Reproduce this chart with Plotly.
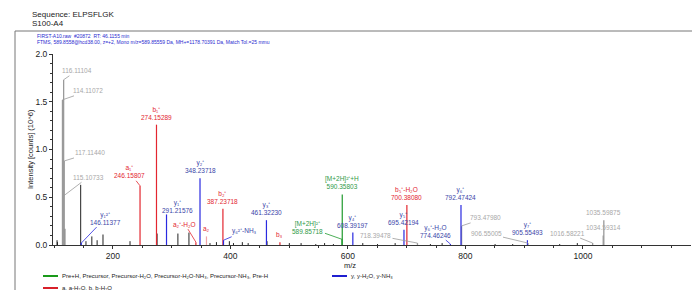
import plotly.graph_objects as go

# ---------------- data ----------------
# annotated peaks
ion_mz = [116.11104, 114.11072, 117.11440, 115.10733,
          146.11377, 246.15807, 274.15289, 291.21576, 341.23, 348.23718,
          359.24, 387.23718, 388.23, 461.32230, 484.29,
          589.85718, 590.35803, 608.39197, 695.42194, 700.38080, 718.39478,
          774.46246, 792.47424, 793.47980, 905.55493, 906.55005,
          1016.58221, 1034.59314, 1035.59875]
ion_int = [1.73, 1.52, 0.88, 0.51,
           0.02, 0.62, 1.26, 0.32, 0.03, 0.70,
           0.09, 0.38, 0.05, 0.26, 0.03,
           0.06, 0.53, 0.13, 0.16, 0.42, 0.02,
           0.01, 0.42, 0.20, 0.05, 0.02,
           0.02, 0.10, 0.26]
ion_name = ["", "", "", "",
            "y₁²⁺", "a₁⁺", "b₁⁺", "y₁⁺", "a₂⁺-H₂O", "y₂⁺",
            "a₂", "b₂⁺", "y₆²⁺-NH₃", "y₃⁺", "b₃",
            "[M+2H]²⁺", "[M+2H]²⁺+H", "y₄⁺", "y₅⁺", "b₅⁺-H₂O", "",
            "y₆⁺-H₂O", "y₆⁺", "", "y₇⁺", "",
            "", "", ""]
ion_group = ["u", "u", "u", "u",
             "y", "ab", "ab", "y", "ab", "y",
             "ab2", "ab", "y", "y", "ab",
             "pre", "pre", "y", "y", "ab", "u",
             "y", "y", "u", "y", "u",
             "u", "u", "u"]
ion_show_mz = [True, True, True, True,
               True, True, True, True, False, True,
               False, True, False, True, False,
               True, True, True, True, True, True,
               True, True, True, True, True,
               True, True, True]

# unannotated peaks
noise_mz = [104.9, 105.6, 118.11, 145.11, 154.1, 164.1, 173.1, 183.1, 229.1, 275.16,
            310.6, 329.4, 365.2, 376.2, 398.2, 405.2, 420.3, 462.3, 430.2, 500.3,
            520.3, 545.3, 560.3, 575.3, 625.3, 650.4, 680.4, 740.4, 760.4, 850.5,
            880.5, 960.5, 990.5]
noise_int = [0.05, 0.03, 0.17, 0.63, 0.04, 0.09, 0.05, 0.11, 0.04, 0.12,
             0.12, 0.13, 0.02, 0.03, 0.04, 0.02, 0.03, 0.04, 0.02, 0.02,
             0.02, 0.01, 0.02, 0.01, 0.02, 0.01, 0.02, 0.01, 0.02, 0.01,
             0.01, 0.01, 0.02]

x_ticks = [200, 400, 600, 800, 1000]
y_ticks = [0.0, 0.5, 1.0, 1.5, 2.0]

title_lines = ["Sequence: ELPSFLGK", "S100-A4"]
header_lines = ["FIRST-A10.raw  #20872  RT: 46.1155 min",
                "FTMS, 589.8558@hcd38.00, z=+2, Mono m/z=589.85559 Da, MH+=1178.70391 Da, Match Tol.=25 mmu"]
legend_labels = ["Pre+H, Precursor, Precursor-H₂O, Precursor-H₂O-NH₃, Precursor-NH₃, Pre-H",
                 "y, y-H₂O, y-NH₃",
                 "a, a-H₂O, b, b-H₂O"]

# ---------------- style ----------------
W, H = 700, 290
L, R, T, B = 45, 17, 46, 53
PW, PH = W - L - R, H - T - B

def px(x):
    return (x - L) / PW

def py(y):
    return (H - B - y) / PH

line_col = {"u": "#9a9a9a", "ab": "#e3262f", "ab2": "#f2a4a8", "y": "#2a2ae0", "pre": "#1f9a2e"}
text_col = {"u": "#a8a8a8", "ab": "#e3262f", "ab2": "#e3262f", "y": "#3a45a8", "pre": "#2f9a48"}

# label offsets for leader-lined labels (ax, ay in px)
leader = {
    0: (13, -9), 1: (26, -9), 2: (26, -8), 3: (25, -19),
    4: (24, -25), 5: (-11, -14), 7: (11, -8), 8: (-11, -18),
    12: (21, -9), 15: (-34, -12), 20: (-42, -8), 21: (-15, -13),
    23: (24, -8), 25: (-42, -10), 26: (-25, -10),
}

fig = go.Figure()

def stems(mzs, ints):
    xs, ys = [], []
    for m, v in zip(mzs, ints):
        xs += [m, m, None]
        ys += [0, v, None]
    return xs, ys

nx, ny = stems(noise_mz, noise_int)
fig.add_trace(go.Scatter(x=nx, y=ny, mode="lines", line=dict(color="#222222", width=1),
                         hoverinfo="skip", showlegend=False))

for g in ["u", "ab2", "ab", "y", "pre"]:
    sel = [(m, v) for m, v, gg in zip(ion_mz, ion_int, ion_group) if gg == g]
    xs, ys = stems([s[0] for s in sel], [s[1] for s in sel])
    fig.add_trace(go.Scatter(x=xs, y=ys, mode="lines",
                             line=dict(color=line_col[g], width=1.3 if g == "u" else 1.2),
                             hoverinfo="skip", showlegend=False))

annotations = []
for i, (m, v, nm, g, smz) in enumerate(zip(ion_mz, ion_int, ion_name, ion_group, ion_show_mz)):
    parts = []
    if nm:
        parts.append(nm)
    if smz:
        parts.append(f"{m:.5f}")
    txt = "<br>".join(parts)
    font = dict(size=6.5, color=text_col[g], family="Arial")
    if i in leader:
        ax, ay = leader[i]
        annotations.append(dict(x=m, y=v, xref="x", yref="y", text=txt, showarrow=True,
                                arrowhead=0, arrowwidth=0.8, arrowcolor=line_col[g] if g != "ab2" else "#e3262f",
                                ax=ax, ay=ay, font=font, align="center", standoff=0))
    else:
        annotations.append(dict(x=m, y=v, xref="x", yref="y", text=txt, showarrow=False,
                                yanchor="bottom", yshift=2, font=font, align="center"))

# titles
annotations.append(dict(x=px(22), y=py(6), xref="paper", yref="paper", text=title_lines[0],
                        showarrow=False, xanchor="left", yanchor="middle",
                        font=dict(size=8, color="#222", family="Arial")))
annotations.append(dict(x=px(22), y=py(16), xref="paper", yref="paper", text=title_lines[1],
                        showarrow=False, xanchor="left", yanchor="middle",
                        font=dict(size=8, color="#222", family="Arial")))
for k, t in enumerate(header_lines):
    annotations.append(dict(x=px(27), y=py(28 + 6 * k), xref="paper", yref="paper", text=t,
                            showarrow=False, xanchor="left", yanchor="middle",
                            font=dict(size=5, color="#2a2ad0", family="Arial")))
# axis titles
annotations.append(dict(x=px(342), y=py(257), xref="paper", yref="paper", text="m/z",
                        showarrow=False, xanchor="center", yanchor="middle",
                        font=dict(size=7.5, color="#222", family="Arial")))
annotations.append(dict(x=px(22), y=py(141), xref="paper", yref="paper",
                        text="Intensity [counts] (10^6)", textangle=-90,
                        showarrow=False, xanchor="center", yanchor="middle",
                        font=dict(size=7.5, color="#222", family="Arial")))

# legend
leg_pos = [(35, 268, "#1a9a1a"), (324, 268, "#1f1fd0"), (35, 280, "#d8202a")]
shapes = []
for (lx, ly, c), lab in zip(leg_pos, legend_labels):
    shapes.append(dict(type="line", xref="paper", yref="paper", x0=px(lx), x1=px(lx + 15),
                       y0=py(ly), y1=py(ly), line=dict(color=c, width=2)))
    annotations.append(dict(x=px(lx + 17), y=py(ly), xref="paper", yref="paper", text=lab,
                            showarrow=False, xanchor="left", yanchor="middle",
                            font=dict(size=6, color="#222", family="Arial")))

# outer frame
shapes.append(dict(type="rect", xref="paper", yref="paper", x0=px(7), x1=px(694),
                   y0=py(288), y1=py(23), line=dict(color="#777", width=1)))

fig.update_layout(
    width=W, height=H, margin=dict(l=L, r=R, t=T, b=B),
    paper_bgcolor="white", plot_bgcolor="white",
    annotations=annotations, shapes=shapes, showlegend=False,
    xaxis=dict(range=[98, 1184], tickvals=x_ticks, ticktext=[str(t) for t in x_ticks],
               ticks="outside", ticklen=3, tickcolor="#333", showline=True, linecolor="#333",
               linewidth=1, showgrid=False, zeroline=False,
               minor=dict(ticks="outside", ticklen=2, dtick=50, tick0=0, tickcolor="#333", showgrid=False),
               tickfont=dict(size=8.5, color="#222", family="Arial")),
    yaxis=dict(range=[0, 2.0], tickvals=y_ticks, ticktext=[f"{t:.1f}" for t in y_ticks],
               ticks="outside", ticklen=3, tickcolor="#333", showline=True, linecolor="#333",
               linewidth=1, showgrid=False, zeroline=False,
               minor=dict(ticks="outside", ticklen=2, dtick=0.1, tickcolor="#333", showgrid=False),
               tickfont=dict(size=8.5, color="#222", family="Arial")),
)

fig.write_html("out.html")
